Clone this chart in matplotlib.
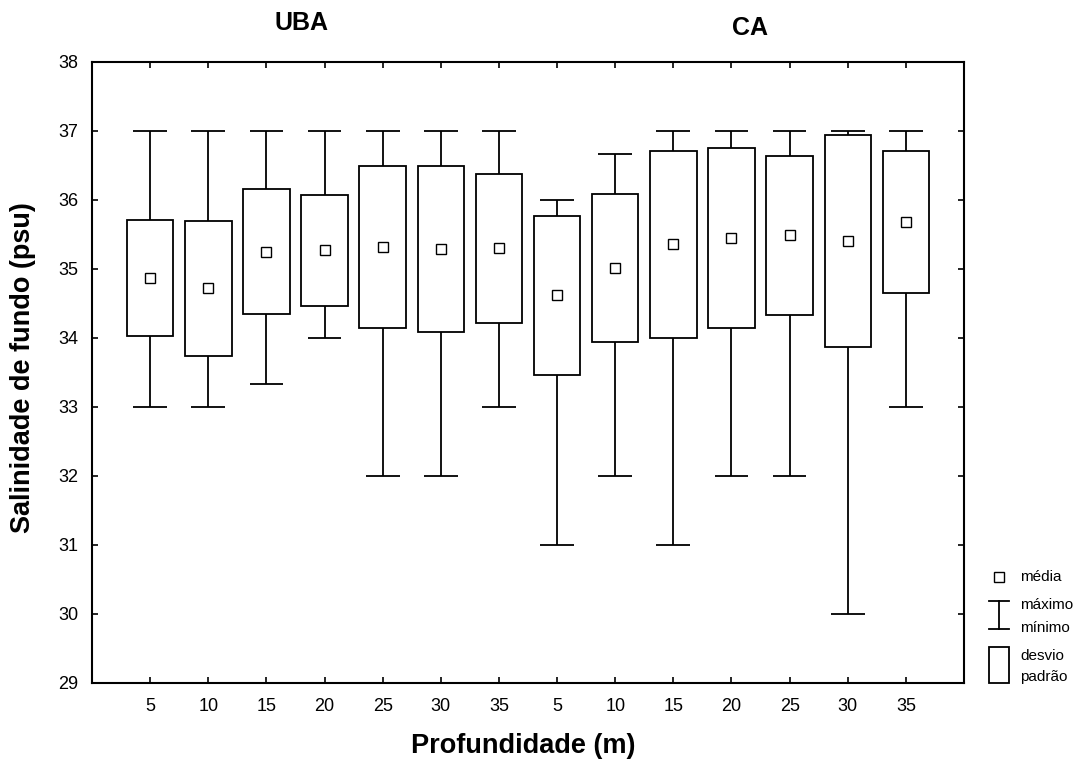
import matplotlib
matplotlib.use("Agg")
import matplotlib.pyplot as plt
from matplotlib.patches import Rectangle
import numpy as np

plt.rcParams['font.family'] = ['Liberation Sans', 'DejaVu Sans']

# Bottom salinity by depth, two areas (UBA, CA)
depths = ['5', '10', '15', '20', '25', '30', '35',
          '5', '10', '15', '20', '25', '30', '35']
means = [34.87, 34.72, 35.25, 35.27, 35.32, 35.29, 35.30,
         34.62, 35.01, 35.36, 35.45, 35.49, 35.40, 35.68]
sds = [0.835, 0.98, 0.905, 0.80, 1.17, 1.20, 1.08,
       1.15, 1.075, 1.355, 1.31, 1.15, 1.535, 1.025]
maxs = [37, 37, 37, 37, 37, 37, 37,
        36, 36.67, 37, 37, 37, 37, 37]
mins = [33, 33, 33.33, 34, 32, 32, 33,
        31, 32, 31, 32, 32, 30, 33]

means = np.array(means)
sds = np.array(sds)
x = np.arange(1, len(depths) + 1)

fig = plt.figure(figsize=(10.81, 7.68), dpi=100)
ax = fig.add_axes([0.0851, 0.1107, 0.8067, 0.8086])

lw = 1.3
# whiskers (min-max) and caps
ax.vlines(x, mins, maxs, color='black', lw=lw, zorder=1)
ax.hlines(maxs, x - 0.29, x + 0.29, color='black', lw=lw, zorder=1)
ax.hlines(mins, x - 0.29, x + 0.29, color='black', lw=lw, zorder=1)
# mean +/- sd boxes
ax.bar(x, 2 * sds, bottom=means - sds, width=0.8, color='white',
       edgecolor='black', linewidth=lw, zorder=2)
# means
ax.plot(x, means, 's', ms=7, mfc='white', mec='black', mew=1.0, zorder=3)

ax.set_xlim(0, 15)
ax.set_ylim(29, 38)
ax.set_xticks(x)
ax.set_xticklabels(depths)
ax.set_yticks(np.arange(29, 39, 1))
ax.tick_params(direction='in', length=4, width=1.2, labelsize=13,
               top=True, right=True)
ax.tick_params(axis='x', pad=11)
ax.tick_params(axis='y', pad=10)
for s in ax.spines.values():
    s.set_linewidth(1.5)

fig.text(23 / 1081, 1 - 368 / 768, 'Salinidade de fundo (psu)', rotation=90,
         ha='center', va='center', fontsize=19.5, fontweight='bold')
fig.text(523 / 1081, 1 - 746 / 768, 'Profundidade (m)',
         ha='center', va='center', fontsize=19.5, fontweight='bold')
fig.text(301 / 1081, 1 - 23 / 768, 'UBA', ha='center', va='center',
         fontsize=18, fontweight='bold')
fig.text(750 / 1081, 1 - 28 / 768, 'CA', ha='center', va='center',
         fontsize=18, fontweight='bold')

# key on the right side, drawn in pixel coordinates
kx = fig.add_axes([0, 0, 1, 1], facecolor='none')
kx.set_xlim(0, 1081)
kx.set_ylim(768, 0)
kx.axis('off')
kx.add_patch(Rectangle((994, 572), 10, 10, fill=False, ec='black', lw=1.0))
kx.plot([999, 999], [601, 629], color='black', lw=lw)
kx.plot([989, 1009], [601, 601], color='black', lw=lw)
kx.plot([989, 1009], [629, 629], color='black', lw=lw)
kx.add_patch(Rectangle((989, 647), 20, 36, fill=False, ec='black', lw=lw))
for ty, label in [(577, 'média'), (605, 'máximo'), (628, 'mínimo'),
                  (656, 'desvio'), (677, 'padrão')]:
    kx.text(1020, ty, label, ha='left', va='center', fontsize=11)

fig.savefig('out.png', dpi=100)
